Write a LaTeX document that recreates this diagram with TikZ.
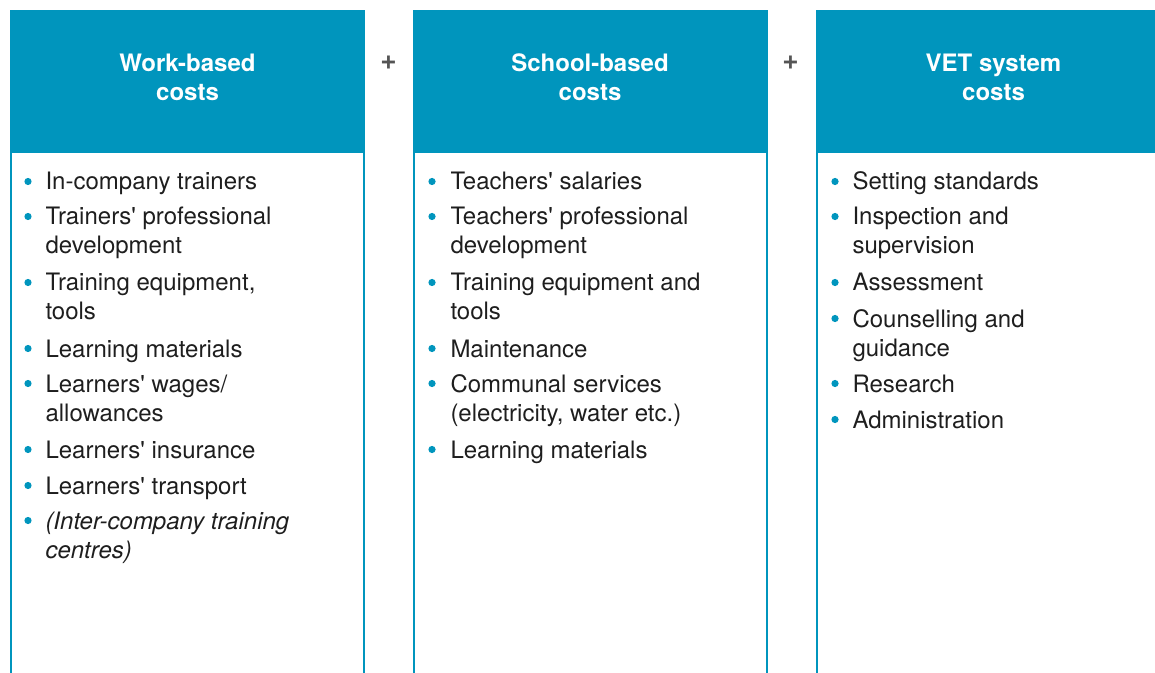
\documentclass[tikz,border=0pt]{standalone}
\usepackage{fontspec}
\setmainfont{TeX Gyre Heros}

\definecolor{headblue}{RGB}{0,149,189}
\definecolor{txtblack}{RGB}{30,30,30}
\definecolor{plusgray}{RGB}{85,85,85}

\tikzset{every picture/.style={line width=0.75pt}}
\tikzset{
  head/.style={anchor=center, align=center, inner sep=0pt, text=white,
    font=\fontsize{18pt}{21.75pt}\selectfont\bfseries},
  item/.style={anchor=base west, align=left, inner sep=0pt, text=txtblack,
    font=\fontsize{18pt}{21.75pt}\selectfont},
  plus/.style={inner sep=0pt, text=plusgray, font=\fontsize{21pt}{24pt}\selectfont\bfseries},
  rule/.style={draw=headblue, line width=1.5pt},
  dot/.style={fill=headblue}
}

\begin{document}
\begin{tikzpicture}[x=0.75pt,y=0.75pt,yscale=-1,xscale=1]
\clip (0,0) rectangle (1155,673);

%Shape: Rectangle (work-based header)
\fill [headblue] (10,10) rectangle (365,153) ;
%Shape: Rectangle (school-based header)
\fill [headblue] (412.5,10) rectangle (768,153) ;
%Shape: Rectangle (VET system header)
\fill [headblue] (816,10) rectangle (1171,153) ;

%Straight Lines (column sides)
\draw [rule] (11,153) -- (11,673) ;
\draw [rule] (364,153) -- (364,673) ;
\draw [rule] (413.5,153) -- (413.5,673) ;
\draw [rule] (767,153) -- (767,673) ;
\draw [rule] (817,153) -- (817,673) ;
\draw [rule] (1170,153) -- (1170,673) ;

% Text Node
\node [head] (work) at (187.5,77) {Work-based\\costs};
% Text Node
\node [head] (school) at (590,77) {School-based\\costs};
% Text Node
\node [head] (vet) at (993.5,77) {VET system\\costs};
% Text Node
\node [plus] (plusa) at (388.5,63) {+};
% Text Node
\node [plus] (plusb) at (790.5,63) {+};

%Bullets, work-based
\fill [dot] (28,181.5) circle (3.6) ;
\fill [dot] (28,216.5) circle (3.6) ;
\fill [dot] (28,282.5) circle (3.6) ;
\fill [dot] (28,348.5) circle (3.6) ;
\fill [dot] (28,383.5) circle (3.6) ;
\fill [dot] (28,449.5) circle (3.6) ;
\fill [dot] (28,485.5) circle (3.6) ;
\fill [dot] (28,520.5) circle (3.6) ;

% Text Node (multi-line nodes sit on their last line)
\node [item] (wa) at (45,190) {In-company trainers};
% Text Node
\node [item] (wb) at (45,254) {Trainers\textquotesingle{} professional\\development};
% Text Node
\node [item] (wc) at (45,320) {Training equipment,\\tools};
% Text Node
\node [item] (wd) at (45,357) {Learning materials};
% Text Node
\node [item] (we) at (45,421) {Learners\textquotesingle{} wages/\\allowances};
% Text Node
\node [item] (wf) at (45,458) {Learners\textquotesingle{} insurance};
% Text Node
\node [item] (wg) at (45,494) {Learners\textquotesingle{} transport};
% Text Node
\node [item, font=\fontsize{18pt}{21.75pt}\selectfont\itshape] (wh) at (45,558) {(Inter-company training\\centres)};

%Bullets, school-based
\fill [dot] (432,181.5) circle (3.6) ;
\fill [dot] (432,216.5) circle (3.6) ;
\fill [dot] (432,282.5) circle (3.6) ;
\fill [dot] (432,348.5) circle (3.6) ;
\fill [dot] (432,383.5) circle (3.6) ;
\fill [dot] (432,449.5) circle (3.6) ;

% Text Node
\node [item] (sa) at (450,190) {Teachers\textquotesingle{} salaries};
% Text Node
\node [item] (sb) at (450,254) {Teachers\textquotesingle{} professional\\development};
% Text Node
\node [item] (sc) at (450,320) {Training equipment and\\tools};
% Text Node
\node [item] (sd) at (450,357) {Maintenance};
% Text Node
\node [item] (se) at (450,421) {Communal services\\(electricity, water etc.)};
% Text Node
\node [item] (sf) at (450,458) {Learning materials};

%Bullets, VET system
\fill [dot] (835,181.5) circle (3.6) ;
\fill [dot] (835,216.5) circle (3.6) ;
\fill [dot] (835,282.5) circle (3.6) ;
\fill [dot] (835,318.5) circle (3.6) ;
\fill [dot] (835,383.5) circle (3.6) ;
\fill [dot] (835,419.5) circle (3.6) ;

% Text Node
\node [item] (va) at (852,190) {Setting standards};
% Text Node
\node [item] (vb) at (852,254) {Inspection and\\supervision};
% Text Node
\node [item] (vc) at (852,291) {Assessment};
% Text Node
\node [item] (vd) at (852,356) {Counselling and\\guidance};
% Text Node
\node [item] (ve) at (852,392) {Research};
% Text Node
\node [item] (vf) at (852,428) {Administration};

\end{tikzpicture}
\end{document}
